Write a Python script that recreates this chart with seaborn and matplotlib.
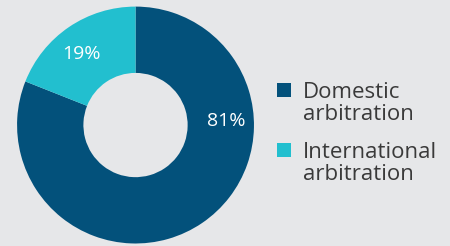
import numpy as np
import matplotlib
matplotlib.use("Agg")
import matplotlib.pyplot as plt
from matplotlib.patches import Rectangle
import seaborn as sns

# data
categories = ["Domestic\narbitration", "International\narbitration"]
shares = [81, 19]
pct_labels = ["81%", "19%"]
colors = sns.color_palette(["#03517b", "#22bfcf"])

bg = "#e6e7e9"
sns.set_theme(style="white")
plt.rcParams["font.family"] = ["Open Sans", "DejaVu Sans"]

W, H = 450, 246
fig = plt.figure(figsize=(W / 100, H / 100), dpi=100, facecolor=bg)
ax = fig.add_axes([0.0378, 0.0102, 0.5267, 0.963])
ax.set_facecolor(bg)

wedges, _ = ax.pie(shares, colors=colors, startangle=90, counterclock=False,
                   radius=1, wedgeprops=dict(width=0.56, linewidth=0))
ax.set_xlim(-1, 1)
ax.set_ylim(-1, 1)
ax.set_aspect("equal")

# percentage labels inside the ring
label_pos = [(0.77, 0.03), (-0.46, 0.6)]
for txt, (x, y) in zip(pct_labels, label_pos):
    ax.text(x, y, txt, ha="center", va="center", color="white",
            fontsize=14, zorder=5)

# legend: square swatch aligned with first text line
entry_top = [83, 143]   # px from top
for label, color, top in zip(categories, colors, entry_top):
    fig.patches.append(Rectangle((277 / W, 1 - (top + 14) / H), 14 / W, 14 / H,
                                 transform=fig.transFigure, facecolor=color,
                                 edgecolor="none"))
    for i, line in enumerate(label.split("\n")):
        base = top + 15 + i * 21.5
        fig.text(303 / W, 1 - base / H, line, ha="left", va="baseline",
                 fontsize=16, color="#3a3a3a")

fig.savefig("out.png", dpi=100, facecolor=bg)
